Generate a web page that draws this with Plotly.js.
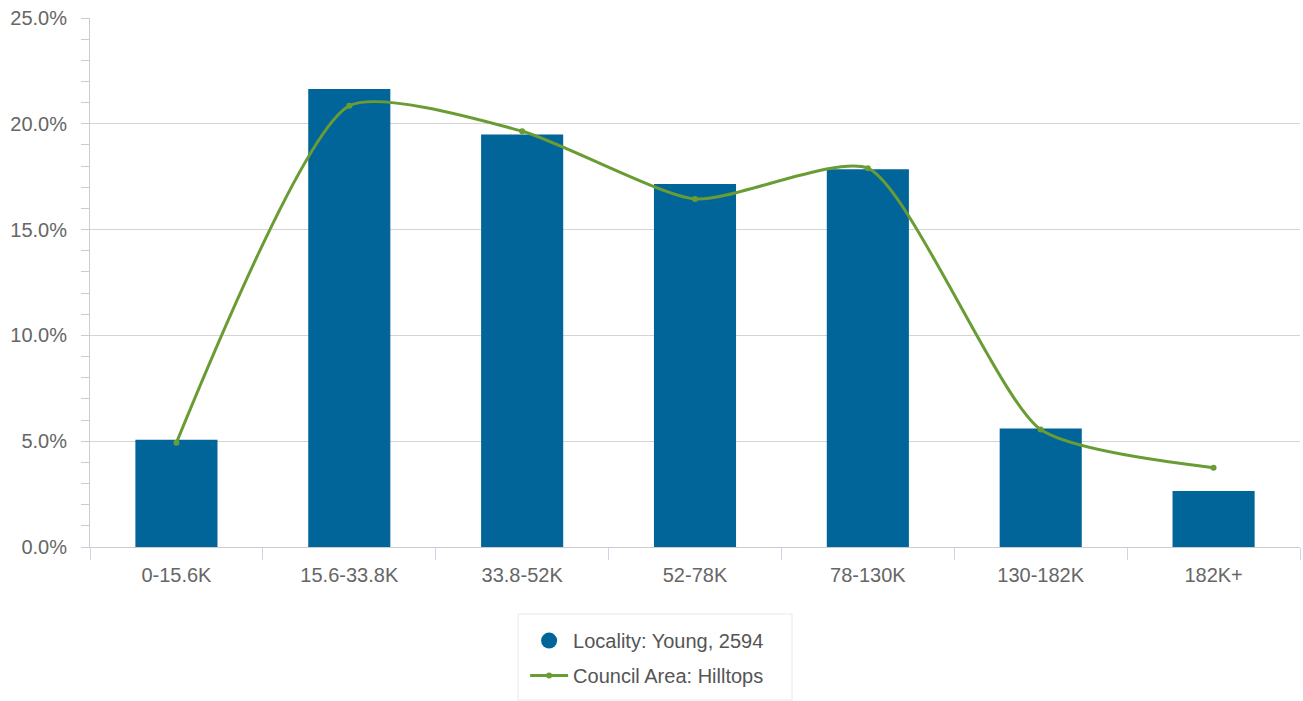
<!DOCTYPE html>
<html>
<head>
<meta charset="utf-8">
<script src="https://cdn.plot.ly/plotly-3.0.1.min.js"></script>
<style>
html,body{margin:0;padding:0;background:#fff;}
#chart{width:1303px;height:701px;}
</style>
</head>
<body>
<div id="chart"></div>
<script>
const categories = ["0-15.6K","15.6-33.8K","33.8-52K","52-78K","78-130K","130-182K","182K+"];
const localityValues = [5.07, 21.65, 19.5, 17.15, 17.85, 5.6, 2.65];
const councilValues = [4.93, 20.85, 19.65, 16.45, 17.9, 5.55, 3.75];
const localityName = "Locality: Young, 2594";
const councilName = "Council Area: Hilltops";

const BLUE = "#02659a";
const GREEN = "#6a9c34";
const FONT = "Liberation Sans, Arial, sans-serif";

const traces = [
  {
    type: "bar",
    x: categories,
    y: localityValues,
    marker: {color: BLUE},
    showlegend: false,
    hoverinfo: "x+y"
  },
  {
    type: "scatter",
    mode: "markers",
    x: [null],
    y: [null],
    name: localityName,
    marker: {color: BLUE, size: 18, symbol: "circle"},
    legendgroup: "a",
    showlegend: true
  },
  {
    type: "scatter",
    mode: "lines+markers",
    x: categories,
    y: councilValues,
    name: councilName,
    line: {color: GREEN, width: 3, shape: "spline", smoothing: 0.6},
    marker: {color: GREEN, size: 6},
    legendgroup: "b"
  }
];

const layout = {
  width: 1303,
  height: 701,
  margin: {l: 90, r: 3, t: 18, b: 154},
  paper_bgcolor: "#ffffff",
  plot_bgcolor: "#ffffff",
  font: {family: FONT, size: 20, color: "#666666"},
  bargap: 0.525,
  xaxis: {
    type: "category",
    tickson: "boundaries",
    ticks: "outside",
    ticklen: 12,
    tickwidth: 1,
    tickcolor: "#ccd6eb",
    showline: true,
    linecolor: "#cccccc",
    linewidth: 1,
    showgrid: false,
    tickfont: {family: FONT, size: 20, color: "#666666"},
    ticklabelstandoff: 10
  },
  yaxis: {
    range: [0, 25],
    dtick: 5,
    tickformat: ".1f",
    ticksuffix: "%",
    ticks: "outside",
    ticklen: 8,
    tickcolor: "#cccccc",
    showline: true,
    linecolor: "#cccccc",
    showgrid: true,
    gridcolor: "#d4d4d4",
    zeroline: false,
    tickfont: {family: FONT, size: 20, color: "#666666"},
    ticklabelstandoff: 10,
    minor: {dtick: 1, ticks: "outside", ticklen: 8, tickcolor: "#cccccc", showgrid: false}
  },
  showlegend: true,
  legend: {
    x: 0.3596,
    xanchor: "left",
    y: -0.14,
    yanchor: "top",
    orientation: "v",
    bgcolor: "rgba(0,0,0,0)",
    borderwidth: 0,
    itemwidth: 38,
    font: {family: FONT, size: 20, color: "#555555"},
    traceorder: "grouped",
    tracegroupgap: 6
  },
  shapes: [
    {
      type: "rect", xref: "paper", yref: "paper",
      x0: 0.3537, x1: 0.5802, y0: -0.1267, y1: -0.2892,
      line: {color: "#e8e8e8", width: 1},
      fillcolor: "rgba(0,0,0,0)",
      layer: "below"
    }
  ]
};

Plotly.newPlot("chart", traces, layout, {displayModeBar: false, staticPlot: true});
</script>
</body>
</html>
